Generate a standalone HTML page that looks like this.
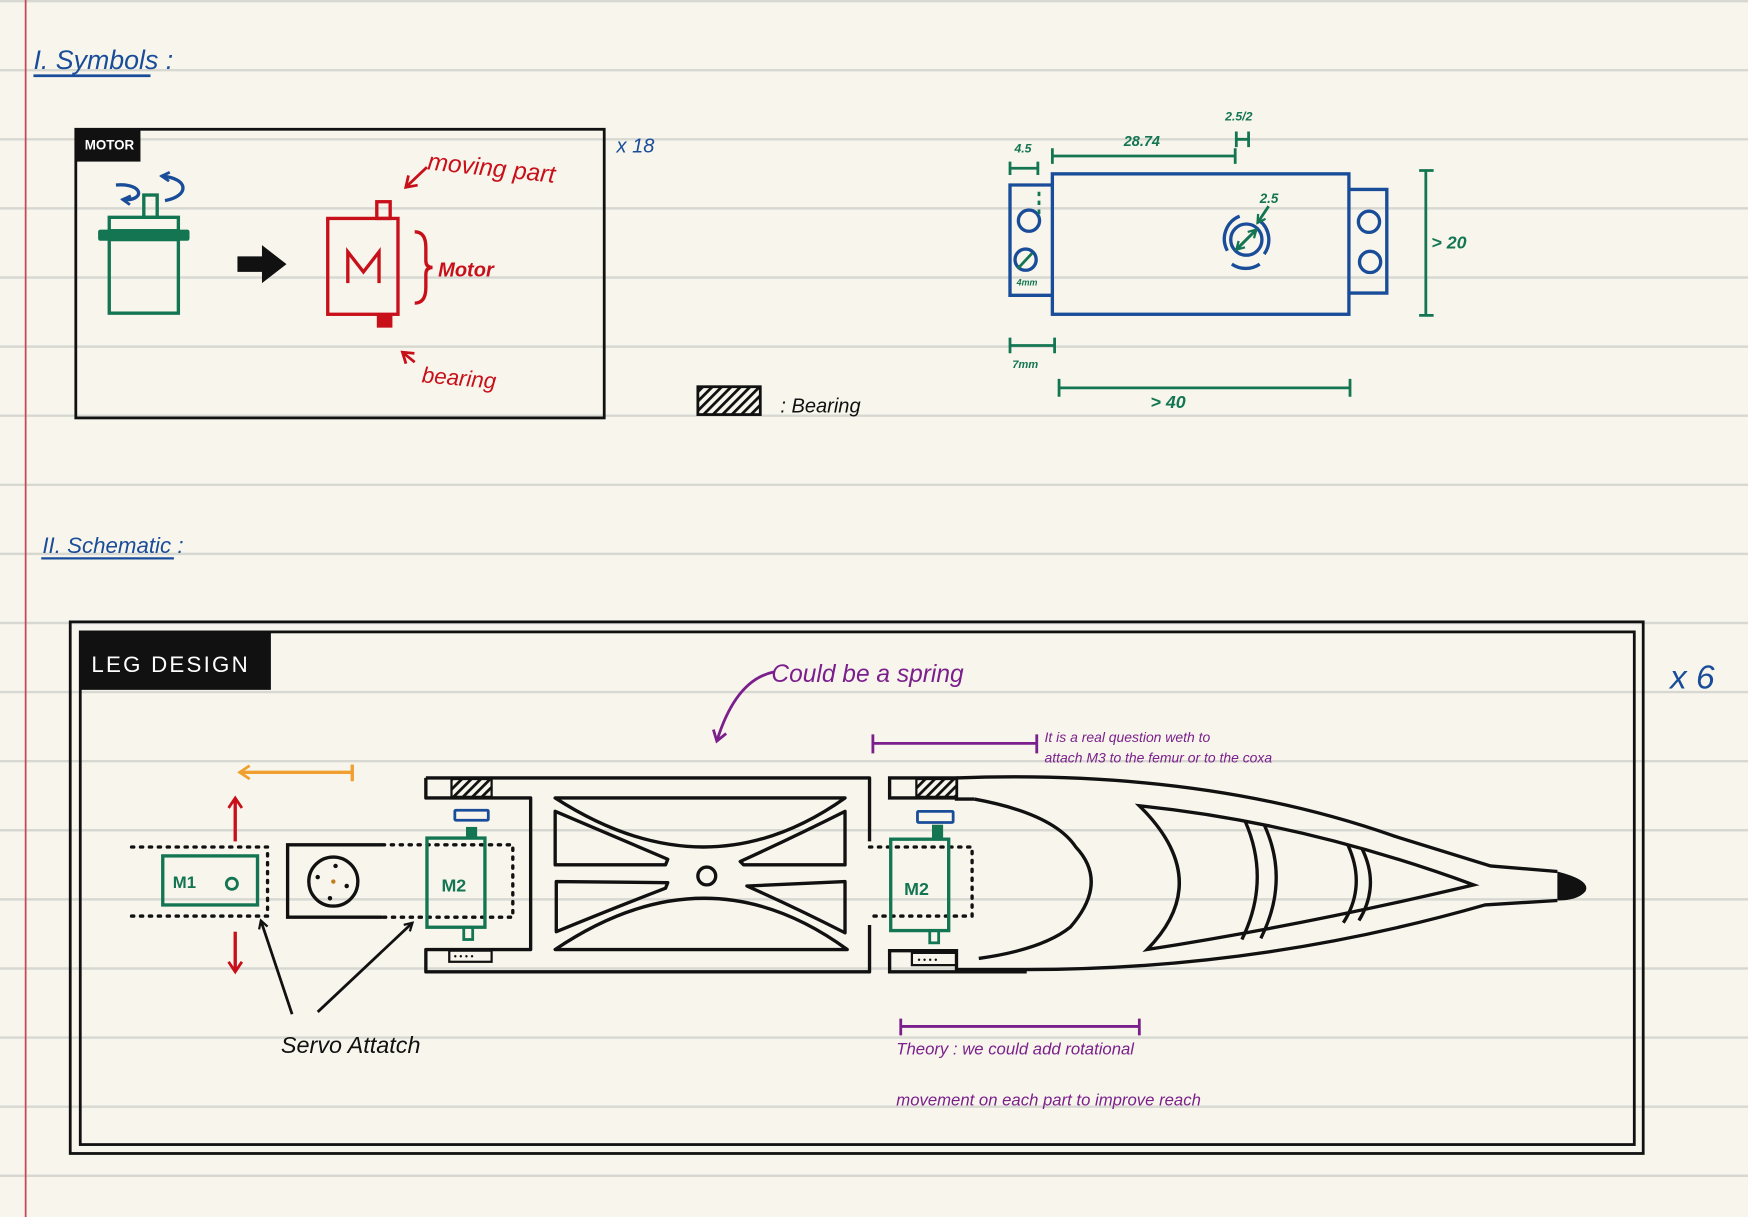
<!DOCTYPE html>
<html><head><meta charset="utf-8"><style>
html,body{margin:0;padding:0;background:#f8f6ec;}
svg{display:block}
text{font-family:"Liberation Sans",sans-serif;}
</style></head><body>
<svg width="1748" height="1217" viewBox="0 0 1568 1092" preserveAspectRatio="none" xmlns="http://www.w3.org/2000/svg">
<defs>
<pattern id="hatch" width="6" height="6" patternUnits="userSpaceOnUse" patternTransform="rotate(45)">
<rect width="6" height="6" fill="#f8f6ec"/><rect width="2.5" height="6" fill="#111"/></pattern>
<marker id="ab" markerWidth="10" markerHeight="10" refX="8" refY="5" orient="auto" markerUnits="userSpaceOnUse"><path d="M1,1 L8,5 L1,9" fill="none" stroke="#111" stroke-width="2"/></marker>
<marker id="ar" markerWidth="14" markerHeight="14" refX="11" refY="7" orient="auto" markerUnits="userSpaceOnUse"><path d="M2,1 L11,7 L2,13" fill="none" stroke="#c8101a" stroke-width="2.5"/></marker>
<marker id="ap" markerWidth="14" markerHeight="14" refX="11" refY="7" orient="auto" markerUnits="userSpaceOnUse"><path d="M2,1 L11,7 L2,13" fill="none" stroke="#7b1f8c" stroke-width="2.5"/></marker>
<marker id="ao" markerWidth="14" markerHeight="14" refX="11" refY="7" orient="auto" markerUnits="userSpaceOnUse"><path d="M2,1 L11,7 L2,13" fill="none" stroke="#f0a030" stroke-width="2.5"/></marker>
<marker id="ag" markerWidth="10" markerHeight="10" refX="8" refY="5" orient="auto" markerUnits="userSpaceOnUse"><path d="M1,1 L8,5 L1,9" fill="none" stroke="#137552" stroke-width="2"/></marker>
<marker id="abl" markerWidth="10" markerHeight="10" refX="8" refY="5" orient="auto" markerUnits="userSpaceOnUse"><path d="M1,1 L8,5 L1,9" fill="none" stroke="#1a4d99" stroke-width="2.5"/></marker>
</defs>
<rect width="1568" height="1092" fill="#f8f6ec"/>
<g stroke="#d8d8d3" stroke-width="2.2">
<line x1="0" y1="1" x2="1568" y2="1"/><line x1="0" y1="63" x2="1568" y2="63"/><line x1="0" y1="125" x2="1568" y2="125"/><line x1="0" y1="187" x2="1568" y2="187"/><line x1="0" y1="249" x2="1568" y2="249"/><line x1="0" y1="311" x2="1568" y2="311"/><line x1="0" y1="373" x2="1568" y2="373"/><line x1="0" y1="435" x2="1568" y2="435"/><line x1="0" y1="497" x2="1568" y2="497"/><line x1="0" y1="559" x2="1568" y2="559"/><line x1="0" y1="621" x2="1568" y2="621"/><line x1="0" y1="683" x2="1568" y2="683"/><line x1="0" y1="745" x2="1568" y2="745"/><line x1="0" y1="807" x2="1568" y2="807"/><line x1="0" y1="869" x2="1568" y2="869"/><line x1="0" y1="931" x2="1568" y2="931"/><line x1="0" y1="993" x2="1568" y2="993"/><line x1="0" y1="1055" x2="1568" y2="1055"/>
</g>
<line x1="23" y1="0" x2="23" y2="1092" stroke="#c8485a" stroke-width="1.6"/>

<!-- headings -->
<text x="30" y="62" font-size="24" fill="#1a4d99" font-style="italic">I. Symbols :</text>
<line x1="30" y1="68" x2="135" y2="68" stroke="#1a4d99" stroke-width="2.5"/>
<text x="38" y="496" font-size="20" fill="#1a4d99" font-style="italic">II. Schematic :</text>
<line x1="37" y1="501" x2="156" y2="501" stroke="#1a4d99" stroke-width="2"/>

<!-- MOTOR box -->
<rect x="68" y="116" width="474" height="259" fill="none" stroke="#111" stroke-width="2.5"/>
<rect x="68" y="116" width="58" height="29" fill="#111"/>
<text x="76" y="134" font-size="12" fill="#fff" font-weight="bold">MOTOR</text>
<g stroke="#137552" stroke-width="3" fill="none">
<rect x="129" y="175" width="12" height="20"/><rect x="98" y="195" width="62" height="12"/><rect x="98" y="215" width="62" height="66"/></g>
<rect x="88" y="206" width="82" height="10" rx="2" fill="#137552"/>
<path d="M126,178 C100,180 100,163 120,165" fill="none" stroke="#1a4d99" stroke-width="3" marker-end="url(#abl)" transform="rotate(180 115 172)"/>
<path d="M148,180 C170,176 170,160 145,158" fill="none" stroke="#1a4d99" stroke-width="3" marker-end="url(#abl)"/>
<path d="M213,230 h22 v-10 l22,17 l-22,17 v-10 h-22z" fill="#111"/>
<g stroke="#c8101a" stroke-width="3" fill="none">
<rect x="294" y="196" width="63" height="86"/><rect x="338" y="181" width="12" height="15"/>
<path d="M312,254 V226 L326,244 L340,226 V254"/>
<path d="M372,208 q10,0 10,14 v12 q0,6 6,6 q-6,0 -6,6 v12 q0,14 -10,14"/></g>
<rect x="338" y="282" width="14" height="12" fill="#c8101a"/>
<text x="393" y="248" font-size="18" fill="#c8101a" font-weight="bold" font-style="italic">Motor</text>
<text x="383" y="152" font-size="22" fill="#c8101a" font-style="italic" transform="rotate(6 383 152)">moving part</text>
<line x1="383" y1="150" x2="364" y2="168" stroke="#c8101a" stroke-width="2.5" marker-end="url(#ar)"/>
<text x="378" y="343" font-size="20" fill="#c8101a" font-style="italic" transform="rotate(5 378 343)">bearing</text>
<line x1="372" y1="325" x2="361" y2="316" stroke="#c8101a" stroke-width="2.5" marker-end="url(#ar)"/>
<text x="553" y="137" font-size="18" fill="#1a4d99" font-style="italic">x 18</text>

<!-- bearing legend -->
<rect x="626" y="347" width="56" height="25" fill="url(#hatch)" stroke="#111" stroke-width="2.5"/>
<text x="700" y="370" font-size="18" fill="#111" font-style="italic">: Bearing</text>

<!-- servo drawing -->
<g stroke="#1a4d99" stroke-width="3" fill="none">
<rect x="944" y="156" width="266" height="126"/>
<path d="M944,166 H906 V265 H944"/><path d="M1210,170 H1244 V263 H1210"/>
<circle cx="923" cy="198" r="9.5"/><circle cx="920" cy="233" r="9.5"/>
<circle cx="1228" cy="199" r="9.5"/><circle cx="1229" cy="235" r="9.5"/>
<circle cx="1118" cy="215" r="14"/>
<path d="M1101,225 A22,22 0 0 1 1112,194"/><path d="M1130,198 A22,22 0 0 1 1134,228"/><path d="M1105,237 A22,22 0 0 0 1130,237"/>
</g>
<g stroke="#137552" stroke-width="2.5" fill="none">
<path d="M906,151 H931 M906,145 V157 M931,145 V157"/>
<path d="M944,140 H1108 M944,133 V147 M1108,133 V147"/>
<path d="M1109,118 V132 M1120,118 V132 M1109,125 H1120"/>
<path d="M1273,153 H1286 M1279,153 V283 M1273,283 H1286"/>
<path d="M906,310 H946 M906,303 V317 M946,303 V317"/>
<path d="M950,348 H1211 M950,340 V356 M1211,340 V356"/>
<line x1="1109" y1="224" x2="1127" y2="206" marker-end="url(#ag)"/>
<line x1="1127" y1="206" x2="1109" y2="224" marker-end="url(#ag)"/>
<line x1="1138" y1="185" x2="1128" y2="200" marker-end="url(#ag)"/>
<line x1="913" y1="241" x2="926" y2="227"/>
<line x1="932" y1="172" x2="932" y2="192" stroke-dasharray="4,4"/>
</g>
<g fill="#137552" font-weight="bold" font-style="italic">
<text x="910" y="137" font-size="11">4.5</text>
<text x="1008" y="131" font-size="13">28.74</text>
<text x="1099" y="108" font-size="11">2.5/2</text>
<text x="1130" y="182" font-size="12">2.5</text>
<text x="1284" y="223" font-size="16">&gt; 20</text>
<text x="912" y="256" font-size="8">4mm</text>
<text x="908" y="330" font-size="10">7mm</text>
<text x="1032" y="366" font-size="16">&gt; 40</text>
</g>

<!-- LEG DESIGN -->
<rect x="63" y="558" width="1411" height="477" fill="none" stroke="#111" stroke-width="2.5"/>
<rect x="72" y="567" width="1394" height="460" fill="none" stroke="#111" stroke-width="2.5"/>
<rect x="72" y="567" width="171" height="52" fill="#111"/>
<text x="82" y="603" font-size="20" fill="#fff" letter-spacing="2">LEG DESIGN</text>
<text x="1498" y="618" font-size="30" fill="#1a4d99" font-style="italic">x 6</text>

<!-- M1 area -->
<g stroke="#111" stroke-width="3" stroke-dasharray="2,6" stroke-linecap="round" fill="none">
<path d="M118,760 H240 V822 H118"/>
<path d="M343,758 H460 V823 H343"/>
<path d="M780,760 H872 V822 H780"/>
</g>
<rect x="146" y="768" width="85" height="44" fill="none" stroke="#137552" stroke-width="3"/>
<text x="155" y="797" font-size="15" fill="#137552" font-weight="bold">M1</text>
<circle cx="208" cy="793" r="5" fill="none" stroke="#137552" stroke-width="2.5"/>
<line x1="211" y1="755" x2="211" y2="716" stroke="#c8101a" stroke-width="3" marker-end="url(#ar)"/>
<line x1="211" y1="836" x2="211" y2="872" stroke="#c8101a" stroke-width="3" marker-end="url(#ar)"/>
<line x1="316" y1="693" x2="215" y2="693" stroke="#f0a030" stroke-width="3" marker-end="url(#ao)"/>
<line x1="316" y1="686" x2="316" y2="701" stroke="#f0a030" stroke-width="3"/>
<path d="M343,758 H258 V823 H343" fill="none" stroke="#111" stroke-width="3"/>
<circle cx="299" cy="791" r="22" fill="none" stroke="#111" stroke-width="3"/>
<g fill="#111"><circle cx="301" cy="777" r="2"/><circle cx="285" cy="787" r="2"/><circle cx="311" cy="795" r="2"/><circle cx="296" cy="806" r="2"/></g>
<circle cx="299" cy="791" r="2" fill="#c08020"/>

<!-- femur -->
<g stroke="#111" stroke-width="3" fill="none" stroke-linejoin="round">
<path d="M382,698 H780 V755"/><path d="M382,698 V716 H476 V852 H382 V872 H780 V830"/>
<path d="M498,716 L758,716 Q634,804 498,716 Z"/>
<path d="M498,728 Q550,750 599,771 L597,776 L498,776 Z"/>
<path d="M758,728 Q710,752 664,773 L667,776 L758,776 Z"/>
<path d="M499,791 L599,792 L597,797 Q550,815 499,836 Z"/>
<path d="M758,791 L670,795 Q715,815 758,837 Z"/>
<path d="M498,852 L760,852 Q634,760 498,852 Z"/>
<circle cx="634" cy="786" r="8"/>
</g>
<rect x="405" y="699" width="36" height="16" fill="url(#hatch)" stroke="#111" stroke-width="2"/>
<rect x="403" y="853" width="38" height="10" fill="none" stroke="#111" stroke-width="2"/>
<text x="407" y="861" font-size="8" fill="#111">• • • •</text>
<rect x="383" y="752" width="52" height="80" fill="none" stroke="#137552" stroke-width="3"/>
<text x="396" y="800" font-size="16" fill="#137552" font-weight="bold">M2</text>
<rect x="418" y="742" width="10" height="10" fill="#137552"/>
<rect x="416" y="832" width="8" height="11" fill="none" stroke="#137552" stroke-width="2.5"/>
<rect x="408" y="727" width="30" height="9" rx="1" fill="none" stroke="#1a4d99" stroke-width="2.5"/>

<!-- tibia -->
<g stroke="#111" stroke-width="3" fill="none">
<path d="M874,717 H858 V698 H798 V716 H858"/>
<path d="M858,698 Q1080,690 1250,750 L1337,777 L1397,782"/>
<path d="M1397,808 L1332,812 Q1130,870 921,870 H858 V853 H798 V872 H921"/>
<path d="M874,717 Q945,730 965,760 Q995,792 960,832 Q935,852 878,860"/>
<path d="M1022,723 Q1170,738 1322,794 Q1170,830 1029,852 Q1090,790 1022,723 Z"/>
<path d="M1117,737 Q1140,790 1114,843"/><path d="M1134,740 Q1157,790 1131,842"/>
<path d="M1209,758 Q1226,795 1205,828"/><path d="M1222,762 Q1238,795 1219,826"/>
</g>
<path d="M1397,782 Q1428,790 1422,800 Q1415,808 1397,808 Z" fill="#111"/>
<rect x="822" y="699" width="36" height="16" fill="url(#hatch)" stroke="#111" stroke-width="2"/>
<rect x="818" y="855" width="40" height="11" fill="none" stroke="#111" stroke-width="2"/>
<text x="823" y="864" font-size="8" fill="#111">• • • •</text>
<rect x="799" y="753" width="52" height="82" fill="none" stroke="#137552" stroke-width="3"/>
<text x="811" y="803" font-size="16" fill="#137552" font-weight="bold">M2</text>
<rect x="836" y="740" width="10" height="13" fill="#137552"/>
<rect x="834" y="835" width="8" height="11" fill="none" stroke="#137552" stroke-width="2.5"/>
<rect x="823" y="728" width="32" height="10" rx="1" fill="none" stroke="#1a4d99" stroke-width="2.5"/>

<!-- servo attach -->
<line x1="262" y1="910" x2="234" y2="826" stroke="#111" stroke-width="2.5" marker-end="url(#ab)"/>
<line x1="285" y1="908" x2="370" y2="828" stroke="#111" stroke-width="2.5" marker-end="url(#ab)"/>
<text x="252" y="945" font-size="21" fill="#111" font-style="italic">Servo Attatch</text>

<!-- purple notes -->
<text x="692" y="612" font-size="22" fill="#7b1f8c" font-style="italic">Could be a spring</text>
<path d="M694,603 Q660,610 643,665" fill="none" stroke="#7b1f8c" stroke-width="2.5" marker-end="url(#ap)"/>
<path d="M783,667 H930 M783,659 V676 M930,659 V676" stroke="#7b1f8c" stroke-width="2.5" fill="none"/>
<text x="937" y="666" font-size="12.5" fill="#7b1f8c" font-style="italic">It is a real question weth to</text>
<text x="937" y="684" font-size="12.5" fill="#7b1f8c" font-style="italic">attach M3 to the femur or to the coxa</text>
<path d="M808,921 H1022 M808,914 V929 M1022,914 V929" stroke="#7b1f8c" stroke-width="2.5" fill="none"/>
<text x="804" y="946" font-size="15" fill="#7b1f8c" font-style="italic">Theory : we could add rotational</text>
<text x="804" y="992" font-size="15" fill="#7b1f8c" font-style="italic">movement on each part to improve reach</text>
</svg>
</body></html>
